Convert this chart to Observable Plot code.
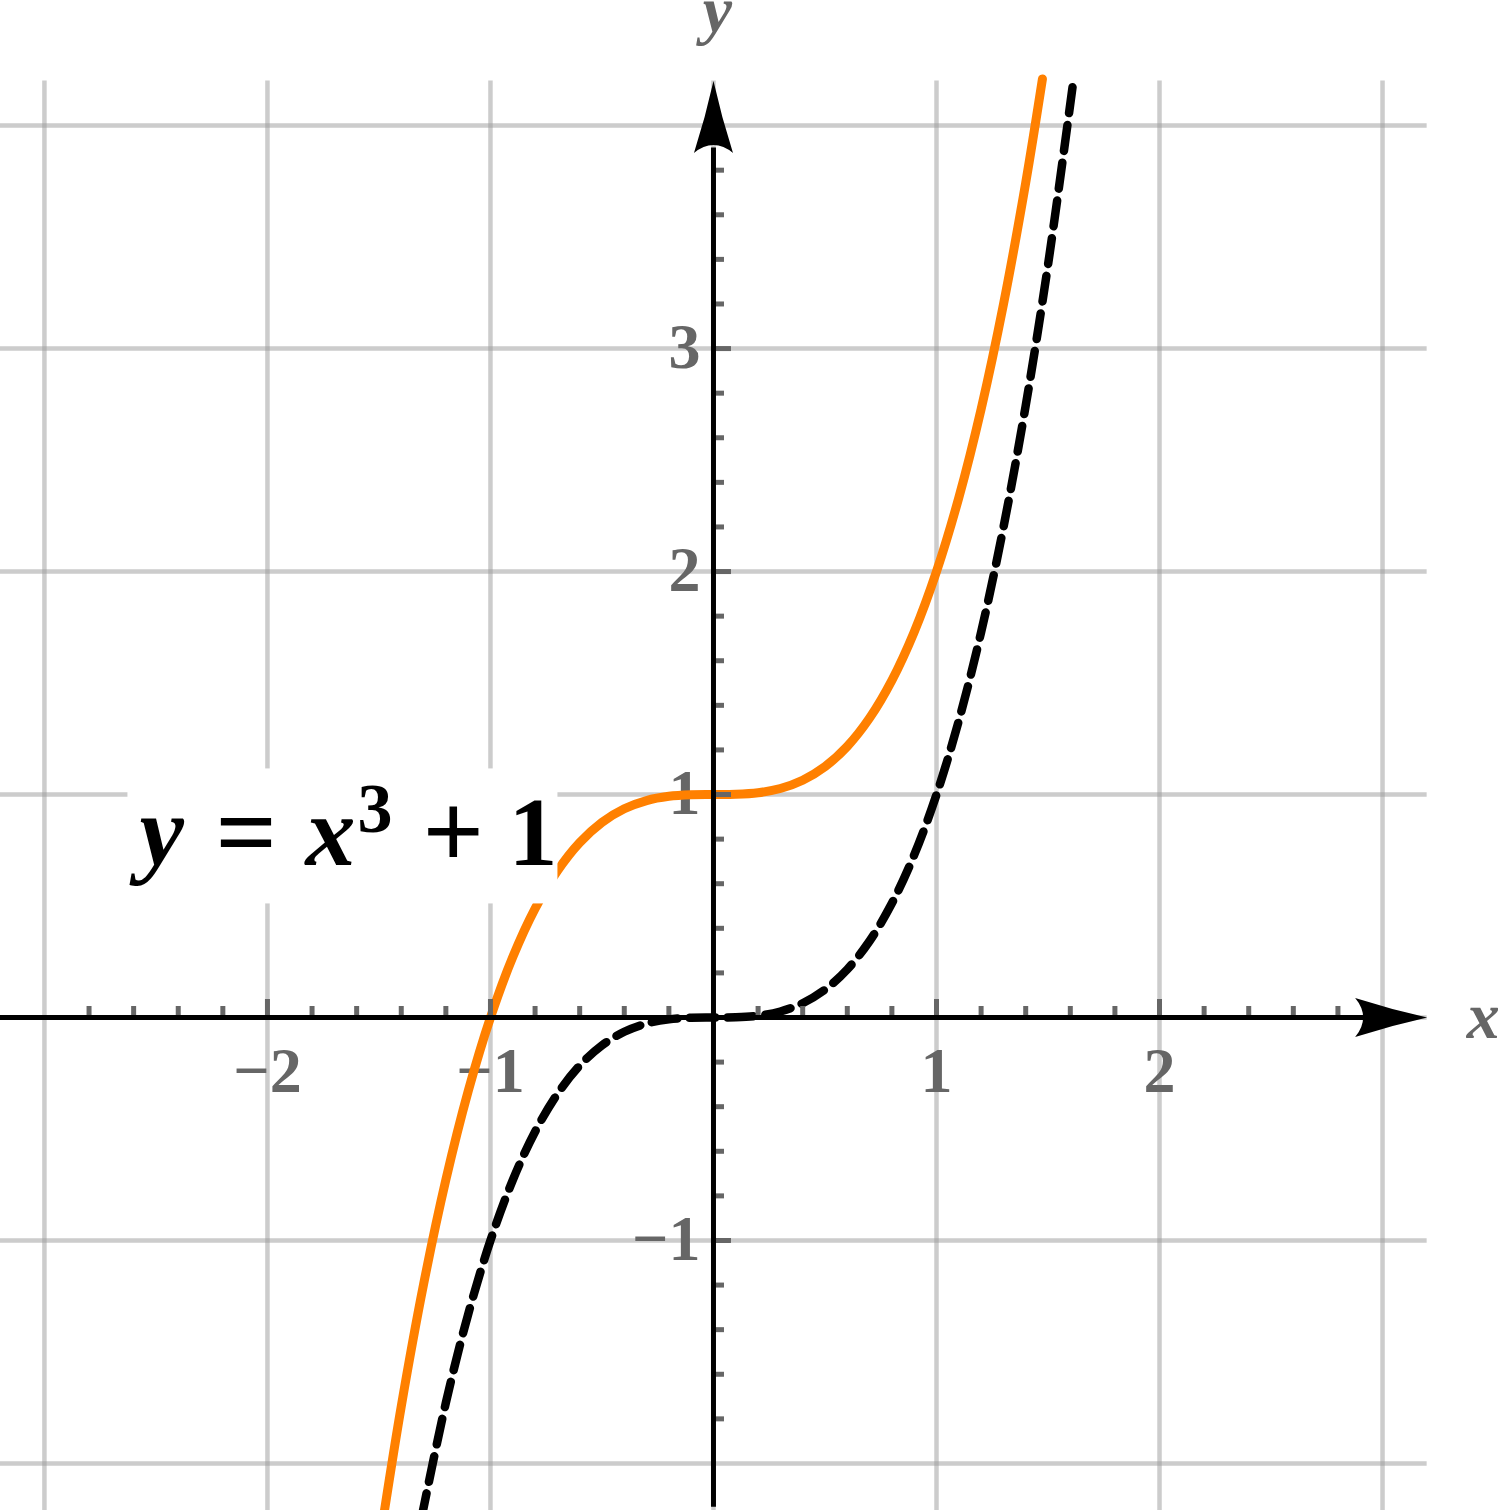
<!DOCTYPE html>
<html>
<head>
<meta charset="utf-8">
<script src="https://cdn.jsdelivr.net/npm/d3@7"></script>
<script src="https://cdn.jsdelivr.net/npm/@observablehq/plot@0.6"></script>
<style>
  html, body { margin: 0; padding: 0; background: white; overflow: hidden; }
  #chart svg { display: block; }
</style>
</head>
<body>
<div id="chart"></div>
<script>
// ---- data ----
const orangeX = [-1.48, -1.4, -1.3, -1.2, -1.1, -1.0, -0.9, -0.8, -0.7, -0.6, -0.5, -0.4, -0.3, -0.2, -0.1, 0,
                 0.1, 0.2, 0.3, 0.4, 0.5, 0.6, 0.7, 0.8, 0.9, 1.0, 1.1, 1.2, 1.3, 1.4, 1.475];
const orangeY = [-2.242, -1.744, -1.197, -0.728, -0.331, 0, 0.271, 0.488, 0.657, 0.784, 0.875, 0.936, 0.973, 0.992, 0.999, 1,
                 1.001, 1.008, 1.027, 1.064, 1.125, 1.216, 1.343, 1.512, 1.729, 2, 2.331, 2.728, 3.197, 3.744, 4.209];
const dashedX = [-1.31, -1.2, -1.1, -1.0, -0.9, -0.8, -0.7, -0.6, -0.5, -0.4, -0.3, -0.2, -0.1, 0,
                 0.1, 0.2, 0.3, 0.4, 0.5, 0.6, 0.7, 0.8, 0.9, 1.0, 1.1, 1.2, 1.3, 1.4, 1.5, 1.61];
const dashedY = [-2.248, -1.728, -1.331, -1, -0.729, -0.512, -0.343, -0.216, -0.125, -0.064, -0.027, -0.008, -0.001, 0,
                 0.001, 0.008, 0.027, 0.064, 0.125, 0.216, 0.343, 0.512, 0.729, 1, 1.331, 1.728, 2.197, 2.744, 3.375, 4.173];

const gridX = [-3, -2, -1, 0, 1, 2, 3];
const gridY = [-2, -1, 0, 1, 2, 3, 4];
const xMajorTicks = [-2, -1, 1, 2];
const xMinorTicks = [-2.8, -2.6, -2.4, -2.2, -1.8, -1.6, -1.4, -1.2, -0.8, -0.6, -0.4, -0.2,
                     0.2, 0.4, 0.6, 0.8, 1.2, 1.4, 1.6, 1.8, 2.2, 2.4, 2.6, 2.8];
const yMajorTicks = [-1, 0, 1, 2, 3];
const yMinorTicks = [-1.8, -1.6, -1.4, -1.2, -0.8, -0.6, -0.4, -0.2, 0.2, 0.4, 0.6, 0.8,
                     1.2, 1.4, 1.6, 1.8, 2.2, 2.4, 2.6, 2.8, 3.2, 3.4, 3.6, 3.8];
const xTickValues = [-2, -1, 1, 2];
const xTickLabels = ["\u22122", "\u22121", "1", "2"];
const yTickValues = [3, 2, 1, -1];
const yTickLabels = ["3", "2", "1", "\u22121"];
const formulaParts = [
  {t: "y", italic: true, off: 4, size: 100, dy: 0},
  {t: "=", italic: false, off: 80, size: 108, dy: 3},
  {t: "x", italic: true, off: 170, size: 100, dy: 0},
  {t: "3", italic: false, off: 222, size: 70, dy: -33},
  {t: "+", italic: false, off: 287, size: 108, dy: 3},
  {t: "1", italic: false, off: 373, size: 98, dy: 0}
];
const formulaAnchor = {x: -2.592, y: 0.682};

// ---- layout ----
const W = 1498, H = 1510;
const xDomain = [-3.197, 3.520];
const yDomain = [-2.211, 4.561];
const PX = W / (xDomain[1] - xDomain[0]);   // pixels per unit
const gridTop = 4.2, gridRight = 3.2;
const FONT = "Liberation Serif";
const GRAY = "#666";
const minorLen = 11 / PX, majorLen = 18 / PX;

const arrowRight = {draw(ctx) {
  ctx.moveTo(0, 0);
  ctx.quadraticCurveTo(-36, -8, -72, -19.5);
  ctx.quadraticCurveTo(-64, -10, -64, 0);
  ctx.quadraticCurveTo(-64, 10, -72, 19.5);
  ctx.quadraticCurveTo(-36, 8, 0, 0);
  ctx.closePath();
}};
const arrowUp = {draw(ctx) {
  ctx.moveTo(0, 0);
  ctx.quadraticCurveTo(-8, 36, -19.5, 72);
  ctx.quadraticCurveTo(-10, 64, 0, 64);
  ctx.quadraticCurveTo(10, 64, 19.5, 72);
  ctx.quadraticCurveTo(8, 36, 0, 0);
  ctx.closePath();
}};

const formulaText = formulaParts.map(p => p.t).join("");

const chart = Plot.plot({
  width: W, height: H,
  marginLeft: 0, marginRight: 0, marginTop: 0, marginBottom: 0,
  x: {domain: xDomain},
  y: {domain: yDomain},
  style: {background: "white"},
  marks: [
    // grid
    Plot.ruleX(gridX, {x: d => d, y1: () => yDomain[0], y2: () => gridTop, stroke: "#999", strokeOpacity: 0.5, strokeWidth: 4.5}),
    Plot.ruleY(gridY, {y: d => d, x1: () => xDomain[0], x2: () => gridRight, stroke: "#999", strokeOpacity: 0.5, strokeWidth: 4.5}),
    // tick labels
    Plot.text(xTickValues, {x: d => d, y: () => 0, text: (d, i) => xTickLabels[i], dy: 54,
      fontFamily: FONT, fontWeight: "bold", fontSize: 64, fill: GRAY, textAnchor: "middle", lineAnchor: "middle"}),
    Plot.text(yTickValues, {x: () => 0, y: d => d, text: (d, i) => yTickLabels[i], dx: -13, dy: -1,
      fontFamily: FONT, fontWeight: "bold", fontSize: 64, fill: GRAY, textAnchor: "end", lineAnchor: "middle"}),
    // axis titles
    Plot.text(["x"], {x: () => gridRight, y: () => 0, text: d => d, dx: 56, dy: 21,
      fontFamily: FONT, fontWeight: "bold", fontStyle: "italic", fontSize: 66, fill: GRAY, textAnchor: "middle", lineAnchor: "bottom"}),
    Plot.text(["y"], {x: () => 0, y: () => gridTop, text: d => d, dx: 4, dy: -49,
      fontFamily: FONT, fontWeight: "bold", fontStyle: "italic", fontSize: 66, fill: GRAY, textAnchor: "middle", lineAnchor: "bottom"}),
    // arrowheads
    Plot.dot([0], {x: () => gridRight, y: () => 0, symbol: arrowRight, fill: "black", stroke: "none"}),
    Plot.dot([0], {x: () => 0, y: () => gridTop, symbol: arrowUp, fill: "black", stroke: "none"}),
    // curves
    Plot.line(orangeX, {x: d => d, y: (d, i) => orangeY[i], stroke: "#ff8000", strokeWidth: 9, curve: "catmull-rom", clip: true}),
    Plot.line(dashedX, {x: d => d, y: (d, i) => dashedY[i], stroke: "black", strokeWidth: 8.5, strokeDasharray: "26,12", curve: "catmull-rom", clip: true}),
    // ticks
    Plot.ruleX(xMinorTicks, {x: d => d, y1: () => 0, y2: () => minorLen, stroke: GRAY, strokeWidth: 5}),
    Plot.ruleX(xMajorTicks, {x: d => d, y1: () => 0, y2: () => majorLen, stroke: GRAY, strokeWidth: 5}),
    Plot.ruleY(yMinorTicks, {y: d => d, x1: () => 0, x2: () => minorLen, stroke: GRAY, strokeWidth: 5}),
    Plot.ruleY(yMajorTicks, {y: d => d, x1: () => 0, x2: () => majorLen, stroke: GRAY, strokeWidth: 5}),
    // axis lines
    Plot.ruleX([0], {y1: () => yDomain[0] + 0.015, y2: () => 3.9, stroke: "black", strokeWidth: 5}),
    Plot.ruleY([0], {x1: () => xDomain[0], x2: () => 2.95, stroke: "black", strokeWidth: 5}),
    // formula label
    Plot.text([formulaText], {x: () => formulaAnchor.x, y: () => formulaAnchor.y, text: d => d,
      fontFamily: FONT, fontWeight: "bold", fontSize: 100, fill: "black", textAnchor: "start", lineAnchor: "bottom"})
  ]
});

document.getElementById("chart").append(chart);

// style the formula: italic variables, superscript, white box behind
const ftext = [...chart.querySelectorAll("text")].find(e => e.textContent === formulaText);
if (ftext) {
  ftext.textContent = "";
  const NS = "http://www.w3.org/2000/svg";
  let prevDy = 0;
  for (const p of formulaParts) {
    const ts = document.createElementNS(NS, "tspan");
    ts.setAttribute("x", p.off);
    ts.setAttribute("dy", p.dy - prevDy);
    prevDy = p.dy;
    ts.setAttribute("font-size", p.size);
    if (p.italic) ts.setAttribute("font-style", "italic");
    ts.textContent = p.t;
    ftext.appendChild(ts);
  }
  const rect = document.createElementNS(NS, "rect");
  rect.setAttribute("x", -8);
  rect.setAttribute("y", -97);
  rect.setAttribute("width", 430);
  rect.setAttribute("height", 135);
  rect.setAttribute("fill", "white");
  rect.setAttribute("transform", ftext.getAttribute("transform"));
  ftext.parentNode.insertBefore(rect, ftext);
}
</script>
</body>
</html>
